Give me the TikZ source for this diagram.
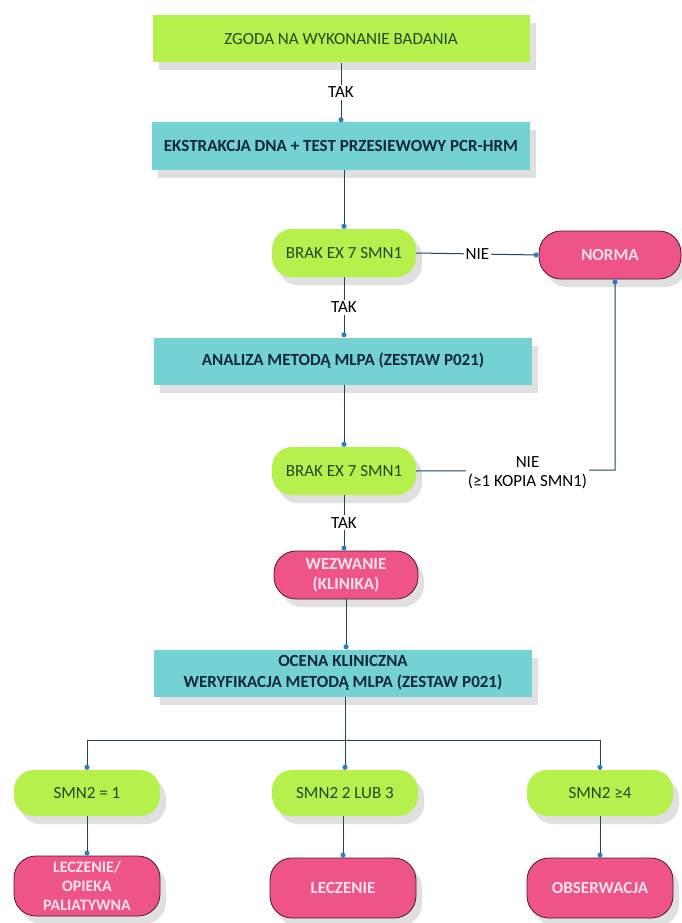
\documentclass[tikz,border=0pt]{standalone}
\usepackage{fontspec}
\setmainfont{Carlito}
\usetikzlibrary{arrows.meta,shadows}
\definecolor{lgreen}{HTML}{B6F04C}
\definecolor{lteal}{HTML}{74D2D2}
\definecolor{lpink}{HTML}{EF5489}
\definecolor{pinkedge}{HTML}{4A1836}
\definecolor{linec}{HTML}{1F4658}
\definecolor{dotc}{HTML}{2C7DBE}
\definecolor{gtext}{HTML}{1E4A22}
\definecolor{ttext}{HTML}{0F2838}
\definecolor{ptext}{HTML}{FFE3EC}
\begin{document}
\begin{tikzpicture}[x=1pt,y=-1pt,
  shad/.style={drop shadow={shadow xshift=6pt,shadow yshift=-8pt,fill=black!12,opacity=1}},
  gbox/.style={shad,fill=lgreen,minimum width=377pt,minimum height=47pt,inner sep=0pt,text=gtext,font=\fontsize{17}{19}\selectfont},
  tbox/.style={shad,fill=lteal,minimum width=378pt,minimum height=47pt,inner sep=0pt,text=ttext,font=\bfseries\fontsize{17}{21}\selectfont,align=center},
  gstad/.style={shad,fill=lgreen,rounded corners=20pt,minimum width=144pt,minimum height=48pt,inner sep=0pt,text=gtext,font=\fontsize{17}{19}\selectfont},
  pstad/.style={shad,fill=lpink,draw=pinkedge,line width=0.8pt,rounded corners=22pt,minimum width=144pt,minimum height=48pt,inner sep=0pt,text=ptext,font=\bfseries\fontsize{17}{20}\selectfont,align=center},
  conn/.style={draw=linec,line width=1pt,-{Circle[length=5pt,color=dotc]}},
  plain/.style={draw=linec,line width=1pt},
  lab/.style={fill=white,inner sep=2pt,text=black,font=\fontsize{17}{19}\selectfont,align=center}
]
\useasboundingbox[fill=white] (0,0) rectangle (681,923);
\node[gbox] (z) at (341,39) {ZGODA NA WYKONANIE BADANIA};
\node[tbox] (e) at (341,146) {EKSTRAKCJA DNA + TEST PRZESIEWOWY PCR-HRM};
\node[gstad] (b1) at (344,253) {BRAK EX 7 SMN1};
\node[pstad,minimum width=142pt] (n) at (610,255) {NORMA};
\node[tbox] (a) at (343,361) {ANALIZA METODĄ MLPA (ZESTAW P021)};
\node[gstad] (b2) at (344,471) {BRAK EX 7 SMN1};
\node[pstad] (w) at (346,575) {WEZWANIE\\(KLINIKA)};
\node[tbox] (o) at (343,673) {OCENA KLINICZNA\\WERYFIKACJA METODĄ MLPA (ZESTAW P021)};
\node[gstad,minimum width=146pt,minimum height=46pt] (s1) at (87,793) {SMN2 = 1};
\node[gstad,minimum width=146pt,minimum height=46pt] (s2) at (345,793) {SMN2 2 LUB 3};
\node[gstad,minimum width=146pt,minimum height=46pt] (s3) at (600,793) {SMN2 ≥4};
\node[pstad,minimum width=146pt,minimum height=60pt,font=\bfseries\fontsize{16}{19}\selectfont] (p1) at (87,886) {LECZENIE/\\OPIEKA\\PALIATYWNA};
\node[pstad,minimum width=146pt,minimum height=60pt] (p2) at (343,888) {LECZENIE};
\node[pstad,minimum width=146pt,minimum height=60pt] (p3) at (600,888) {OBSERWACJA};
\coordinate (br) at (345,740);
\coordinate (nc) at (615,470);
% connectors
\path[conn] (z.south -| e.north) -- node[lab]{TAK} (e.north);
\path[conn] (e.south -| b1.north) -- (b1.north);
\path[conn] (b1.east) -- node[lab]{NIE} (n.west);
\path[conn] (b1.south) -- node[lab]{TAK} (b1.south |- a.north);
\path[conn] (a.south -| b2.north) -- (b2.north);
\path[conn] (b2.east) -- node[lab,pos=0.56,yshift=-2pt]{NIE\\(≥1 KOPIA SMN1)} (nc) -- (nc |- n.south);
\path[conn] (b2.south) -- node[lab]{TAK} (b2.south |- w.north);
\path[conn] (w.south) -- (w.south |- o.north);
\path[plain] (o.south -| br) -- (br);
\path[conn] (br) -| (s1.north);
\path[conn] (br) -- (s2.north);
\path[conn] (br) -| (s3.north);
\path[conn] (s1) -- (p1.north);
\path[conn] (s2.south -| p2.north) -- (p2.north);
\path[conn] (s3) -- (p3.north);
\end{tikzpicture}
\end{document}
